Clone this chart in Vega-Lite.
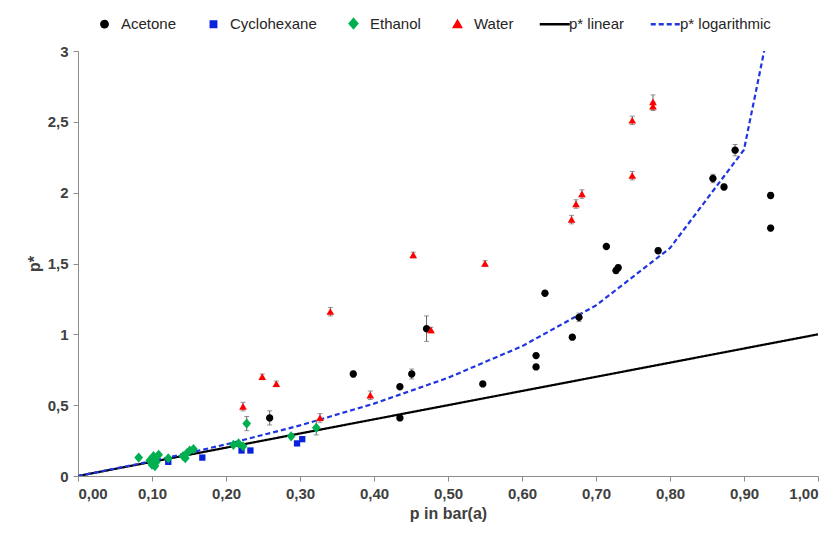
{
  "$schema": "https://vega.github.io/schema/vega-lite/v6.json",
  "width": 740,
  "height": 425,
  "autosize": {"type": "none"},
  "padding": {"left": 78, "top": 51, "right": 12, "bottom": 67},
  "background": "white",
  "config": {
    "view": {"stroke": null},
    "font": "Liberation Sans",
    "axis": {
      "domainColor": "#8c8c8c",
      "domainWidth": 1,
      "tickColor": "#8c8c8c",
      "tickSize": 5,
      "grid": false,
      "labelFont": "Liberation Sans",
      "labelFontSize": 15,
      "labelFontWeight": "bold",
      "labelColor": "#404040",
      "titleFont": "Liberation Sans",
      "titleFontSize": 16,
      "titleFontWeight": "bold",
      "titleColor": "#404040"
    },
    "legend": {
      "orient": "none",
      "legendX": 10,
      "legendY": -44,
      "direction": "horizontal",
      "columns": 6,
      "symbolSize": 900,
      "symbolStrokeWidth": 2.5,
      "labelFontSize": 15,
      "labelColor": "#262626",
      "labelFont": "Liberation Sans",
      "labelOffset": 0,
      "columnPadding": 20
    }
  },
  "datasets": {
    "points": [
      {"series": "Acetone", "p": 0.259, "ps": 0.41, "err": 0.05},
      {"series": "Acetone", "p": 0.372, "ps": 0.72, "err": 0.02},
      {"series": "Acetone", "p": 0.435, "ps": 0.63, "err": 0},
      {"series": "Acetone", "p": 0.435, "ps": 0.41, "err": 0},
      {"series": "Acetone", "p": 0.451, "ps": 0.72, "err": 0.035},
      {"series": "Acetone", "p": 0.471, "ps": 1.04, "err": 0.09},
      {"series": "Acetone", "p": 0.547, "ps": 0.65, "err": 0},
      {"series": "Acetone", "p": 0.619, "ps": 0.77, "err": 0},
      {"series": "Acetone", "p": 0.619, "ps": 0.85, "err": 0.01},
      {"series": "Acetone", "p": 0.631, "ps": 1.29, "err": 0},
      {"series": "Acetone", "p": 0.668, "ps": 0.98, "err": 0},
      {"series": "Acetone", "p": 0.677, "ps": 1.12, "err": 0.03},
      {"series": "Acetone", "p": 0.714, "ps": 1.62, "err": 0},
      {"series": "Acetone", "p": 0.727, "ps": 1.45, "err": 0.02},
      {"series": "Acetone", "p": 0.730, "ps": 1.47, "err": 0.02},
      {"series": "Acetone", "p": 0.784, "ps": 1.59, "err": 0.02},
      {"series": "Acetone", "p": 0.858, "ps": 2.10, "err": 0.03},
      {"series": "Acetone", "p": 0.873, "ps": 2.04, "err": 0.02},
      {"series": "Acetone", "p": 0.888, "ps": 2.30, "err": 0.04},
      {"series": "Acetone", "p": 0.936, "ps": 1.98, "err": 0.02},
      {"series": "Acetone", "p": 0.936, "ps": 1.75, "err": 0.02},
      {"series": "Cyclohexane", "p": 0.122, "ps": 0.10, "err": 0},
      {"series": "Cyclohexane", "p": 0.168, "ps": 0.13, "err": 0},
      {"series": "Cyclohexane", "p": 0.221, "ps": 0.18, "err": 0},
      {"series": "Cyclohexane", "p": 0.233, "ps": 0.18, "err": 0},
      {"series": "Cyclohexane", "p": 0.296, "ps": 0.23, "err": 0},
      {"series": "Cyclohexane", "p": 0.303, "ps": 0.26, "err": 0},
      {"series": "Ethanol", "p": 0.082, "ps": 0.13, "err": 0},
      {"series": "Ethanol", "p": 0.097, "ps": 0.11, "err": 0},
      {"series": "Ethanol", "p": 0.102, "ps": 0.14, "err": 0},
      {"series": "Ethanol", "p": 0.106, "ps": 0.10, "err": 0},
      {"series": "Ethanol", "p": 0.109, "ps": 0.15, "err": 0},
      {"series": "Ethanol", "p": 0.100, "ps": 0.08, "err": 0},
      {"series": "Ethanol", "p": 0.104, "ps": 0.07, "err": 0},
      {"series": "Ethanol", "p": 0.122, "ps": 0.125, "err": 0},
      {"series": "Ethanol", "p": 0.142, "ps": 0.14, "err": 0},
      {"series": "Ethanol", "p": 0.145, "ps": 0.125, "err": 0},
      {"series": "Ethanol", "p": 0.147, "ps": 0.16, "err": 0},
      {"series": "Ethanol", "p": 0.151, "ps": 0.18, "err": 0},
      {"series": "Ethanol", "p": 0.156, "ps": 0.19, "err": 0},
      {"series": "Ethanol", "p": 0.210, "ps": 0.22, "err": 0},
      {"series": "Ethanol", "p": 0.217, "ps": 0.23, "err": 0},
      {"series": "Ethanol", "p": 0.223, "ps": 0.21, "err": 0},
      {"series": "Ethanol", "p": 0.228, "ps": 0.37, "err": 0.05},
      {"series": "Ethanol", "p": 0.288, "ps": 0.28, "err": 0},
      {"series": "Ethanol", "p": 0.322, "ps": 0.34, "err": 0.05},
      {"series": "Water", "p": 0.223, "ps": 0.49, "err": 0.03},
      {"series": "Water", "p": 0.249, "ps": 0.70, "err": 0.02},
      {"series": "Water", "p": 0.268, "ps": 0.65, "err": 0.02},
      {"series": "Water", "p": 0.327, "ps": 0.41, "err": 0.03},
      {"series": "Water", "p": 0.341, "ps": 1.16, "err": 0.03},
      {"series": "Water", "p": 0.395, "ps": 0.57, "err": 0.03},
      {"series": "Water", "p": 0.453, "ps": 1.56, "err": 0.02},
      {"series": "Water", "p": 0.477, "ps": 1.03, "err": 0.02},
      {"series": "Water", "p": 0.550, "ps": 1.50, "err": 0.02},
      {"series": "Water", "p": 0.667, "ps": 1.81, "err": 0.03},
      {"series": "Water", "p": 0.673, "ps": 1.92, "err": 0.03},
      {"series": "Water", "p": 0.681, "ps": 1.99, "err": 0.03},
      {"series": "Water", "p": 0.749, "ps": 2.51, "err": 0.03},
      {"series": "Water", "p": 0.749, "ps": 2.12, "err": 0.03},
      {"series": "Water", "p": 0.777, "ps": 2.64, "err": 0.05},
      {"series": "Water", "p": 0.777, "ps": 2.61, "err": 0.03}
    ],
    "lines": [
      {"series": "p* linear", "p": 0, "ps": 0},
      {"series": "p* linear", "p": 1, "ps": 1},
      {"series": "p* logarithmic", "p": 0, "ps": 0},
      {"series": "p* logarithmic", "p": 0.1, "ps": 0.105},
      {"series": "p* logarithmic", "p": 0.2, "ps": 0.223},
      {"series": "p* logarithmic", "p": 0.3, "ps": 0.357},
      {"series": "p* logarithmic", "p": 0.4, "ps": 0.511},
      {"series": "p* logarithmic", "p": 0.5, "ps": 0.693},
      {"series": "p* logarithmic", "p": 0.6, "ps": 0.916},
      {"series": "p* logarithmic", "p": 0.7, "ps": 1.204},
      {"series": "p* logarithmic", "p": 0.8, "ps": 1.609},
      {"series": "p* logarithmic", "p": 0.9, "ps": 2.303},
      {"series": "p* logarithmic", "p": 0.99, "ps": 4.605}
    ]
  },
  "layer": [
    {
      "data": {"name": "lines"},
      "mark": {"type": "line", "clip": true, "strokeWidth": 2.2},
      "encoding": {
        "x": {"field": "p", "type": "quantitative", "title": "p in bar(a)", "scale": {"domain": [0, 1], "nice": false}},
        "y": {"field": "ps", "type": "quantitative", "title": "p*", "scale": {"domain": [0, 3], "nice": false}},
        "color": {"field": "series", "type": "nominal"},
        "strokeDash": {
          "field": "series", "type": "nominal",
          "scale": {
            "domain": ["Acetone", "Cyclohexane", "Ethanol", "Water", "p* linear", "p* logarithmic"],
            "range": [[1, 0], [1, 0], [1, 0], [1, 0], [1, 0], [5, 3]]
          },
          "legend": null
        }
      }
    },
    {
      "data": {"name": "points"},
      "transform": [{"filter": "datum.err > 0"}],
      "mark": {"type": "errorbar", "ticks": {"size": 5}, "color": "#666666", "thickness": 1},
      "encoding": {
        "x": {"field": "p", "type": "quantitative", "title": "p in bar(a)"},
        "y": {"field": "ps", "type": "quantitative", "title": "p*"},
        "yError": {"field": "err"}
      }
    },
    {
      "data": {"name": "points"},
      "mark": {"type": "point", "filled": true, "opacity": 1, "size": 1225, "strokeWidth": 0},
      "encoding": {
        "x": {
          "field": "p", "type": "quantitative", "title": "p in bar(a)",
          "scale": {"domain": [0, 1], "nice": false},
          "axis": {
            "values": [0, 0.1, 0.2, 0.3, 0.4, 0.5, 0.6, 0.7, 0.8, 0.9, 1],
            "format": ".2f",
            "labelExpr": "replace(datum.label, '.', ',')",
            "labelPadding": 5,
            "titlePadding": 4
          }
        },
        "y": {
          "field": "ps", "type": "quantitative", "title": "p*",
          "scale": {"domain": [0, 3], "nice": false},
          "axis": {
            "values": [0, 0.25, 0.5, 0.75, 1, 1.25, 1.5, 1.75, 2, 2.25, 2.5, 2.75, 3],
            "format": "~g",
            "labelExpr": "datum.value % 0.5 === 0 ? replace(datum.label, '.', ',') : ''",
            "labelPadding": 5,
            "titlePadding": 5
          }
        },
        "color": {
          "field": "series", "type": "nominal",
          "scale": {
            "domain": ["Acetone", "Cyclohexane", "Ethanol", "Water", "p* linear", "p* logarithmic"],
            "range": ["#000000", "#0a22dc", "#00b050", "#ff0000", "#000000", "#1f35e0"]
          },
          "legend": {
            "title": null,
            "encode": {
              "symbols": {
                "update": {
                  "shape": {"scale": "shape", "field": "value"},
                  "fill": {"scale": "color", "field": "value"},
                  "stroke": {"scale": "stroke", "field": "value"},
                  "strokeDash": {"scale": "strokeDash", "field": "value"},
                  "opacity": {"value": 1}
                }
              }
            }
          }
        },
        "stroke": {
          "field": "series", "type": "nominal",
          "scale": {
            "domain": ["Acetone", "Cyclohexane", "Ethanol", "Water", "p* linear", "p* logarithmic"],
            "range": ["transparent", "transparent", "transparent", "transparent", "#000000", "#1f35e0"]
          },
          "legend": null
        },
        "shape": {
          "field": "series", "type": "nominal",
          "scale": {
            "domain": ["Acetone", "Cyclohexane", "Ethanol", "Water", "p* linear", "p* logarithmic"],
            "range": [
              "M-0.21,0A0.21,0.21,0,1,1,0.21,0A0.21,0.21,0,1,1,-0.21,0Z",
              "M-0.18,-0.18L0.18,-0.18L0.18,0.18L-0.18,0.18Z",
              "M0,-0.29L0.25,0L0,0.29L-0.25,0Z",
              "M0,-0.2L0.22,0.18L-0.22,0.18Z",
              "M-0.85,0L1.15,0",
              "M-0.85,0L1.15,0"
            ]
          },
          "legend": null
        }
      }
    }
  ]
}
